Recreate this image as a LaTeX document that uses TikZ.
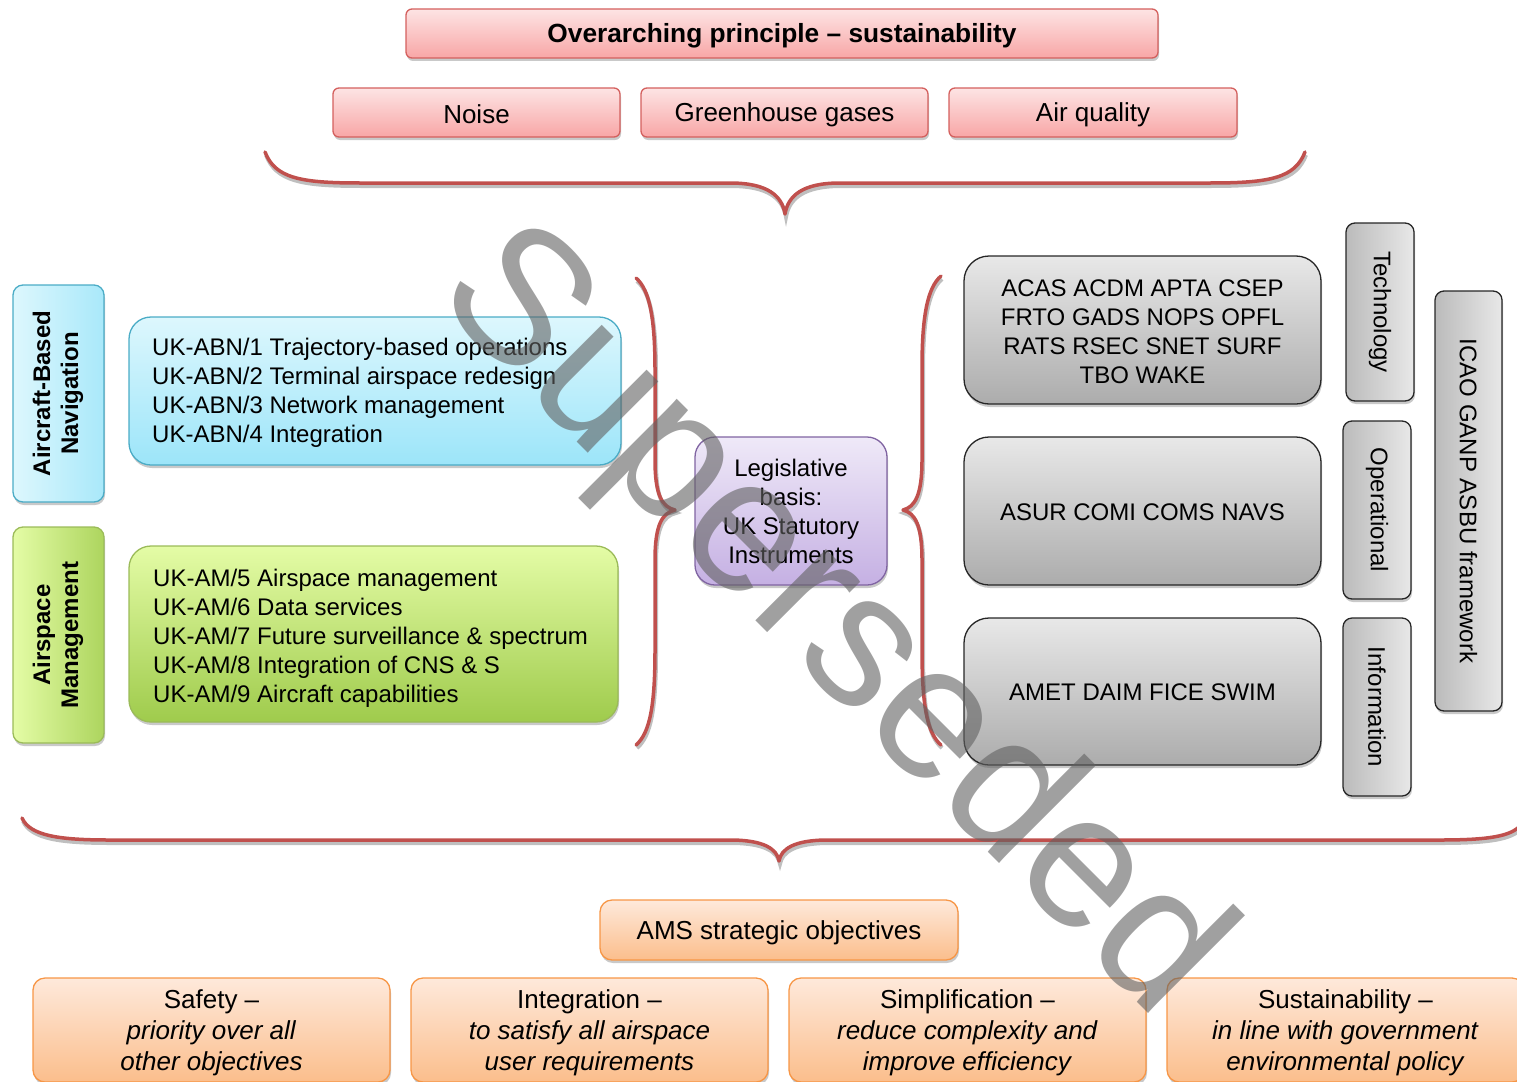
\documentclass[tikz,border=0pt]{standalone}
\usepackage{fontspec}
\setmainfont{Liberation Sans}
\usetikzlibrary{shadows}
\definecolor{pinkT}{HTML}{FDE4E4}
\definecolor{pinkB}{HTML}{F8A6A6}
\definecolor{pinkD}{HTML}{D4605E}
\definecolor{blueT}{HTML}{DDF7FD}
\definecolor{blueB}{HTML}{9CE5F9}
\definecolor{blueD}{HTML}{4BACC6}
\definecolor{greenT}{HTML}{E4FCA6}
\definecolor{greenB}{HTML}{9FCB4C}
\definecolor{greenD}{HTML}{9BBB59}
\definecolor{purpT}{HTML}{EFE9F8}
\definecolor{purpB}{HTML}{C5B0E3}
\definecolor{purpD}{HTML}{8064A2}
\definecolor{grayT}{HTML}{E8E8E8}
\definecolor{grayB}{HTML}{ACACAC}
\definecolor{grayD}{HTML}{262626}
\definecolor{orT}{HTML}{FEE9DB}
\definecolor{orB}{HTML}{FBBE8C}
\definecolor{orD}{HTML}{F79646}
\definecolor{braceC}{HTML}{C0504D}
\newcommand{\lowr}[2]{\raisebox{-#1}[\height][\depth]{#2}}
\begin{document}
\begin{tikzpicture}[x=1pt,y=-1pt,
  base/.style={draw, line width=1.3pt, inner sep=0pt,
    drop shadow={shadow xshift=1pt, shadow yshift=-3pt, opacity=0.3, fill=black!70},
    font=\fontsize{24}{29}\selectfont},
  pinkbox/.style={base, rounded corners=6pt, top color=pinkT, bottom color=pinkB, draw=pinkD,
    font=\fontsize{26}{30}\selectfont},
  bluebox/.style={base, rounded corners=22pt, top color=blueT, bottom color=blueB, draw=blueD},
  greenbox/.style={base, rounded corners=22pt, top color=greenT, bottom color=greenB, draw=greenD},
  bluev/.style={base, rounded corners=10pt, left color=blueT, right color=blueB!80!blueT, draw=blueD,
    font=\bfseries\fontsize{24}{28}\selectfont},
  greenv/.style={base, rounded corners=10pt, left color=greenT, right color=greenB!80!greenT, draw=greenD,
    font=\bfseries\fontsize{24}{28}\selectfont},
  purpbox/.style={base, rounded corners=20pt, top color=purpT, bottom color=purpB, draw=purpD, align=center},
  graybox/.style={base, rounded corners=25pt, top color=grayT, bottom color=grayB, draw=grayD, align=center},
  grayv/.style={base, rounded corners=9pt, left color=grayB!75!grayT, right color=grayT, draw=grayD},
  orbox/.style={base, rounded corners=12pt, top color=orT, bottom color=orB, draw=orD, align=center,
    font=\fontsize{26}{31}\selectfont},
  txt/.style={inner sep=0pt, font=\fontsize{24}{29}\selectfont},
  ortxt/.style={inner sep=0pt, align=center, font=\fontsize{26}{31}\selectfont},
  bracestyle/.style={draw=braceC, line width=3.5pt, line cap=round, line join=round,
    preaction={draw=black!25, line width=4pt, transform canvas={xshift=1pt, yshift=-3pt}}},
  wm/.style={font=\fontsize{190}{190}\selectfont, text=black!62, text opacity=0.6, inner sep=0pt}
]
\useasboundingbox (0,0) rectangle (1517,1081);

% top
\node[pinkbox, minimum width=752pt, minimum height=49pt, font=\bfseries\fontsize{26.3}{30}\selectfont] (over) at (782,33.5) {\lowr{2.5pt}{Overarching principle – sustainability}};
\node[pinkbox, minimum width=287pt, minimum height=49pt] (noise) at (476.5,112.5) {\lowr{2pt}{Noise}};
\node[pinkbox, minimum width=287pt, minimum height=49pt] (ghg) at (784.5,112.5) {\lowr{2pt}{Greenhouse gases}};
\node[pinkbox, minimum width=288pt, minimum height=49pt] (airq) at (1093,112.5) {\lowr{2pt}{Air quality}};

% top brace
\path[bracestyle] (265,152) .. controls (275,178) and (300,183) .. (360,183) -- (730,183)
  .. controls (768,183) and (782,196) .. (785,214) .. controls (788,196) and (802,183) .. (840,183)
  -- (1210,183) .. controls (1270,183) and (1295,178) .. (1305,152);

% left
\node[bluev, minimum width=91pt, minimum height=217pt] (abnlab) at (58.5,393.5)
  {\rotatebox{90}{\begin{tabular}{@{}c@{}}Aircraft-Based\\Navigation\end{tabular}}};
\node[greenv, minimum width=91pt, minimum height=216pt] (amlab) at (58.5,635)
  {\rotatebox{90}{\begin{tabular}{@{}c@{}}Airspace\\Management\end{tabular}}};

\node[bluebox, minimum width=492pt, minimum height=148pt] (abn) at (375,391) {};
\node[txt, align=left, anchor=west] (abntext) at (152,393)
  {UK-ABN/1 Trajectory-based operations\\UK-ABN/2 Terminal airspace redesign\\UK-ABN/3 Network management\\UK-ABN/4 Integration};
\node[greenbox, minimum width=489pt, minimum height=176pt] (am) at (373.5,634) {};
\node[txt, align=left, anchor=west] (amtext) at (153,638.5)
  {UK-AM/5 Airspace management\\UK-AM/6 Data services\\UK-AM/7 Future surveillance \& spectrum\\UK-AM/8 Integration of CNS \& S\\UK-AM/9 Aircraft capabilities};

% middle braces
\path[bracestyle] (636,278) .. controls (650,290) and (655,320) .. (655,370) -- (655,460)
  .. controls (655,495) and (662,507) .. (675,510) .. controls (662,513) and (655,525) .. (655,560)
  -- (655,650) .. controls (655,705) and (650,733) .. (636,745);
\path[bracestyle] (941,276) .. controls (927,288) and (922,318) .. (922,368) -- (922,460)
  .. controls (922,495) and (915,507) .. (903,510) .. controls (915,513) and (922,525) .. (922,560)
  -- (922,650) .. controls (922,705) and (927,733) .. (941,745);

\node[purpbox, minimum width=192pt, minimum height=148pt] (legis) at (791,511)
  {Legislative\\basis:\\UK Statutory\\Instruments};

% right
\node[graybox, minimum width=357pt, minimum height=148pt] (g1) at (1142.5,330) {};
\node[txt, align=center] (g1text) at (1142.5,331.5)
  {ACAS ACDM APTA CSEP\\FRTO GADS NOPS OPFL\\RATS RSEC SNET SURF\\TBO WAKE};
\node[graybox, minimum width=357pt, minimum height=148pt] (g2) at (1142.5,511)
  {\lowr{1pt}{ASUR COMI COMS NAVS}};
\node[graybox, minimum width=357pt, minimum height=147pt] (g3) at (1142.5,691.5)
  {\lowr{1pt}{AMET DAIM FICE SWIM}};

\node[grayv, minimum width=68pt, minimum height=178pt] (tech) at (1380,312) {\rotatebox{-90}{Technology}};
\node[grayv, minimum width=68pt, minimum height=178pt] (oper) at (1377,510) {\rotatebox{-90}{Operational}};
\node[grayv, minimum width=68pt, minimum height=178pt] (info) at (1377,707) {\rotatebox{-90}{Information}};
\node[grayv, minimum width=67pt, minimum height=420pt] (icao) at (1468.5,501) {\rotatebox{-90}{ICAO GANP ASBU framework}};

% bottom brace
\path[bracestyle] (22,818) .. controls (30,836) and (60,840) .. (110,840) -- (730,840)
  .. controls (764,840) and (777,849) .. (779,861) .. controls (781,849) and (794,840) .. (828,840)
  -- (1440,840) .. controls (1490,840) and (1510,836) .. (1520,826);

% bottom
\node[orbox, minimum width=358pt, minimum height=60pt] (ams) at (779,930) {\lowr{3pt}{AMS strategic objectives}};
\node[orbox, minimum width=357pt, minimum height=104pt] (o1) at (211.5,1030) {};
\node[orbox, minimum width=357pt, minimum height=104pt] (o2) at (589.5,1030) {};
\node[orbox, minimum width=357pt, minimum height=104pt] (o3) at (967.5,1030) {};
\node[orbox, minimum width=357pt, minimum height=104pt] (o4) at (1345.5,1030) {};
\node[ortxt] (o1text) at (211.5,1032.5)
  {Safety –\\\textit{priority over all}\\\textit{other objectives}};
\node[ortxt] (o2text) at (589.5,1032.5)
  {Integration –\\\textit{to satisfy all airspace}\\\textit{user requirements}};
\node[ortxt] (o3text) at (967.5,1032.5)
  {Simplification –\\\textit{reduce complexity and}\\\textit{improve efficiency}};
\node[ortxt] (o4text) at (1345.5,1032.5)
  {Sustainability –\\\textit{in line with government}\\\textit{environmental policy}};

% watermark
\node[wm, rotate=-45] (wmark) at (830,625) {Superseded};
\end{tikzpicture}
\end{document}
